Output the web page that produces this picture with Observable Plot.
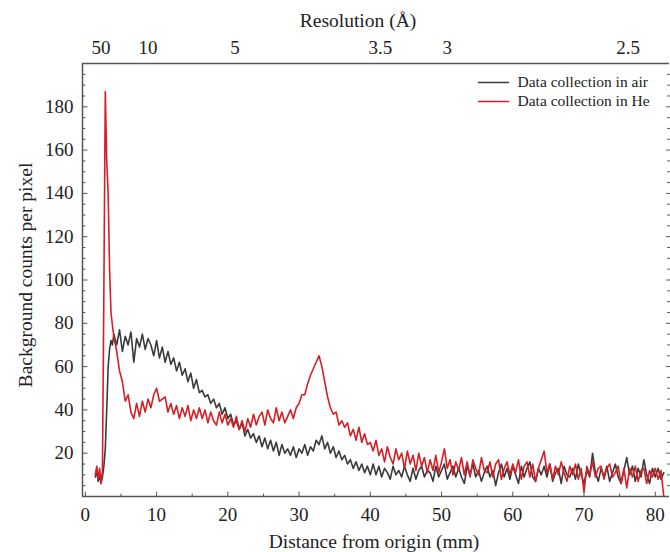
<!DOCTYPE html>
<html><head><meta charset="utf-8">
<script src="https://cdn.jsdelivr.net/npm/d3@7"></script>
<script src="https://cdn.jsdelivr.net/npm/@observablehq/plot@0.6"></script>
<style>body{margin:0;background:#fff;overflow:hidden}</style>
</head><body><div id="chart"></div>
<script>
// Distance from origin (mm) at which the two background profiles were read
const distance = [1.4,1.6,1.8,2.0,2.2,2.4,2.6,2.8,3.0,3.2,3.4,3.6,3.8,4.0,
4.4,4.8,5.2,5.6,6,6.4,6.8,7.2,7.6,8,
8.4,8.8,9.2,9.6,10,10.4,10.8,11.2,11.6,12,
12.4,12.8,13.2,13.6,14,14.4,14.8,15.2,15.6,16,
16.4,16.8,17.2,17.6,18,18.4,18.8,19.2,19.6,20,
20.4,20.8,21.2,21.6,22,22.4,22.8,23.2,23.6,24,
24.4,24.8,25.2,25.6,26,26.4,26.8,27.2,27.6,28,
28.4,28.8,29.2,29.6,30,30.4,30.8,31.2,31.6,32,
32.4,32.8,33.2,33.6,34,34.4,34.8,35.2,35.6,36,
36.4,36.8,37.2,37.6,38,38.4,38.8,39.2,39.6,40,
40.4,40.8,41.2,41.6,42,42.4,42.8,43.2,43.6,44,
44.4,44.8,45.2,45.6,46,46.4,46.8,47.2,47.6,48,
48.4,48.8,49.2,49.6,50,50.4,50.8,51.2,51.6,52,
52.4,52.8,53.2,53.6,54,54.4,54.8,55.2,55.6,56,
56.4,56.8,57.2,57.6,58,58.4,58.8,59.2,59.6,60,
60.4,60.8,61.2,61.6,62,62.4,62.8,63.2,63.6,64,
64.4,64.8,65.2,65.6,66,66.4,66.8,67.2,67.6,68,
68.4,68.8,69.2,69.6,70,70.4,70.8,71.2,71.6,72,
72.4,72.8,73.2,73.6,74,74.4,74.8,75.2,75.6,76,
76.4,76.8,77.2,77.6,78,78.4,78.8,79.2,79.6,80,
80.4,80.8,81.2];

// Background counts per pixel, data collection in air
const airCounts = [9,12,7,10,6,9,14,22,40,60,68,72,70,75,
70,77,67,74,70,76,62,73,69,75,
68,73,70,65,72,64,69,62,67,61,
64,58,62,56,59,53,57,50,54,48,
49,46,47,43,45,41,43,38,41,36,
38,33,35,31,34,28,31,27,29,25,
28,23,27,22,26,21,25,19,24,20,
22,19,23,18,22,20,24,19,23,21,
26,24,28,22,25,20,23,18,21,17,
19,15,17,13,16,12,15,11,14,10,
15,10,14,9,13,11,8,14,10,12,
9,14,10,7,13,8,12,14,9,12,
11,7,14,9,12,15,8,11,14,9,
13,9,6,14,10,15,9,12,7,11,
14,9,12,5,11,15,9,13,8,14,
10,6,14,9,13,16,9,7,13,10,
14,9,15,7,11,13,6,14,10,9,
13,8,15,10,6,12,9,20,11,7,
13,9,14,7,11,15,9,6,12,18,
10,14,7,13,9,17,10,6,13,9,
13,8,11];

// Background counts per pixel, data collection in He
const heCounts = [10,14,8,13,6,12,95,187,155,140,105,85,79,74,
67,58,53,44,47,39,36,43,37,44,
39,45,41,47,50,44,45,46,39,43,
38,42,36,41,37,42,35,40,36,41,
36,40,34,39,35,33,39,34,38,33,
36,32,37,31,35,30,36,32,38,33,
37,39,33,40,36,34,41,35,39,34,
37,40,36,41,43,47,47,52,56,59,
62,65,60,53,46,41,38,39,33,35,
32,34,28,31,26,32,25,29,24,25,
21,26,19,22,16,23,18,15,22,17,
20,13,21,15,19,12,20,14,18,11,
17,12,19,11,16,22,13,17,10,16,
12,18,10,16,9,17,13,10,18,12,
11,16,9,15,17,8,13,16,10,15,
11,17,8,14,16,9,15,7,13,17,
21,11,15,8,14,10,16,11,7,14,
10,15,8,13,2,14,10,16,9,13,
14,8,13,15,9,11,14,6,13,4,
13,9,14,7,12,13,6,12,9,13,
8,12,0];

const seriesNames = ["Data collection in air", "Data collection in He"];
const yTickLabels = [20, 40, 60, 80, 100, 120, 140, 160, 180];
const xTickLabels = [0, 10, 20, 30, 40, 50, 60, 70, 80];
const resolutionLabels = ["50", "10", "5", "3.5", "3", "2.5"];
const resolutionDistance = [2.2, 8.8, 21.0, 41.4, 50.8, 76.2];

const airRows = distance.map((d, i) => ({distance: d, counts: airCounts[i], series: seriesNames[0]}));
const heRows = distance.map((d, i) => ({distance: d, counts: heCounts[i], series: seriesNames[1]}));
const resolutionRows = resolutionLabels.map((l, i) => ({label: l, distance: resolutionDistance[i]}));

const xDomain = [-0.4, 82];
const yDomain = [0, 200];
const yMinor = d3.range(5, 200, 5).filter(v => v % 20 !== 0);
const yMajor = d3.range(20, 200, 20);
const xMinor = d3.range(5, 82, 10);
const xMajor = d3.range(0, 82, 10);

const airColor = "#3a3a3a";
const heColor = "#d81e25";
const frameColor = "#555";
const textColor = "#222";
const font = "'Liberation Serif', 'Times New Roman', serif";
const tickShape = {draw(ctx, l) { ctx.moveTo(0, 0); ctx.lineTo(0, -l); }};

const tick = (data, o) => Plot.vector(data, {anchor: "start", shape: tickShape, stroke: frameColor, strokeWidth: 1, ...o});

const chart = Plot.plot({
  width: 670, height: 552,
  marginLeft: 82, marginRight: 1, marginTop: 63, marginBottom: 56,
  x: {domain: xDomain, axis: null},
  y: {domain: yDomain, axis: null},
  style: {fontFamily: font, fontSize: "19px", color: textColor, background: "#fff"},
  marks: [
    Plot.line(airRows, {x: "distance", y: "counts", stroke: airColor, strokeWidth: 1.6}),
    Plot.line(heRows, {x: "distance", y: "counts", stroke: heColor, strokeWidth: 1.6}),
    Plot.ruleX([xDomain[0]], {stroke: frameColor, strokeWidth: 1.5}),
    Plot.ruleY([yDomain[0]], {stroke: frameColor, strokeWidth: 1.5}),
    Plot.ruleY([yDomain[1]], {stroke: frameColor, strokeWidth: 1.5}),
    tick(yMinor, {y: d => d, frameAnchor: "left", rotate: 90, length: 2.5}),
    tick(yMajor, {y: d => d, frameAnchor: "left", rotate: 90, length: 4.5}),
    tick(xMinor, {x: d => d, frameAnchor: "bottom", rotate: 0, length: 2.5}),
    tick(xMajor, {x: d => d, frameAnchor: "bottom", rotate: 0, length: 4.5}),
    tick(yMinor, {y: d => d, frameAnchor: "right", rotate: -90, length: 2}),
    tick(yMajor, {y: d => d, frameAnchor: "right", rotate: -90, length: 3}),
    Plot.text(yTickLabels, {y: d => d, text: d => String(d), frameAnchor: "left", dx: -9, textAnchor: "end", lineAnchor: "middle", fontSize: 19, fill: textColor}),
    Plot.text(xTickLabels, {x: d => d, text: d => String(d), frameAnchor: "bottom", dy: 18, textAnchor: "middle", lineAnchor: "middle", fontSize: 19, fill: textColor}),
    Plot.text(resolutionRows, {x: "distance", text: "label", frameAnchor: "top", dy: -16, textAnchor: "middle", lineAnchor: "middle", fontSize: 19, fill: textColor}),
    Plot.text(["Distance from origin (mm)"], {frameAnchor: "bottom", dy: 45, dx: -2, textAnchor: "middle", lineAnchor: "middle", fontSize: 19.5, fill: textColor}),
    Plot.text(["Resolution (Å)"], {frameAnchor: "top", dy: -43, dx: -18, textAnchor: "middle", lineAnchor: "middle", fontSize: 19.5, fill: textColor}),
    Plot.text(["Background counts per pixel"], {frameAnchor: "left", dx: -57, dy: -5, rotate: -90, textAnchor: "middle", lineAnchor: "middle", fontSize: 19.5, fill: textColor}),
    tick([seriesNames[0]], {frameAnchor: "top-right", dx: -191, dy: 19, rotate: 90, length: 30, stroke: airColor, strokeWidth: 1.5}),
    tick([seriesNames[1]], {frameAnchor: "top-right", dx: -191, dy: 38, rotate: 90, length: 30, stroke: heColor, strokeWidth: 1.5}),
    Plot.text([seriesNames[0]], {frameAnchor: "top-right", dx: -152, dy: 19, textAnchor: "start", lineAnchor: "middle", fontSize: 15.5, fill: textColor}),
    Plot.text([seriesNames[1]], {frameAnchor: "top-right", dx: -152, dy: 38, textAnchor: "start", lineAnchor: "middle", fontSize: 15.5, fill: textColor})
  ]
});
document.getElementById("chart").append(chart);
</script>
</body></html>
